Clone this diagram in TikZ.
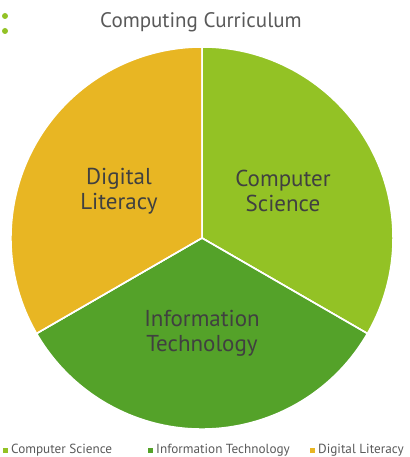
\documentclass[tikz,border=0pt]{standalone}
\usepackage{fontspec}
\setmainfont{PT Sans}
\definecolor{cscol}{HTML}{93C225}
\definecolor{itcol}{HTML}{54A229}
\definecolor{dlcol}{HTML}{E8B623}
\definecolor{txt}{HTML}{404040}
\definecolor{ttl}{HTML}{595959}
\begin{document}
\begin{tikzpicture}[x=1pt,y=-1pt,
  slice/.style={draw=white,line width=1.5pt},
  lbl/.style={text=txt,font=\fontsize{23}{25}\selectfont,align=center},
  leg/.style={text=ttl,font=\fontsize{13.2}{14}\selectfont,anchor=west,inner sep=0pt},
  sq/.style={minimum size=5pt,inner sep=0pt}]
\useasboundingbox (0,0) rectangle (409,457);
\coordinate (c) at (202,238);
\fill[slice,fill=cscol] (c) -- ++(90:-191) arc[start angle=-90,end angle=30,radius=191] -- cycle;
\fill[slice,fill=itcol] (c) -- ++(30:191) arc[start angle=30,end angle=150,radius=191] -- cycle;
\fill[slice,fill=dlcol] (c) -- ++(150:191) arc[start angle=150,end angle=270,radius=191] -- cycle;
\draw[white,line width=1.5pt] (c) -- ++(0,-191) (c) -- ++(30:191) (c) -- ++(150:191);
\node[text=ttl,font=\fontsize{21}{24}\selectfont] (title) at (201,22) {Computing Curriculum};
\fill[cscol] (5,16) circle (3) (5,31) circle (3);
\node[lbl] (cs) at (283,191) {Computer\\Science};
\node[lbl] (dl) at (119,191) {Digital\\Literacy};
\node[lbl] (it) at (202,333) {Information\\Technology};
\node[sq,fill=cscol] (s1) at (5,450) {};
\node[leg] (l1) at (11,450) {Computer Science};
\node[sq,fill=itcol] (s2) at (150,450) {};
\node[leg] (l2) at (156,450) {Information Technology};
\node[sq,fill=dlcol] (s3) at (312,450) {};
\node[leg] (l3) at (318,450) {Digital Literacy};
\end{tikzpicture}
\end{document}
